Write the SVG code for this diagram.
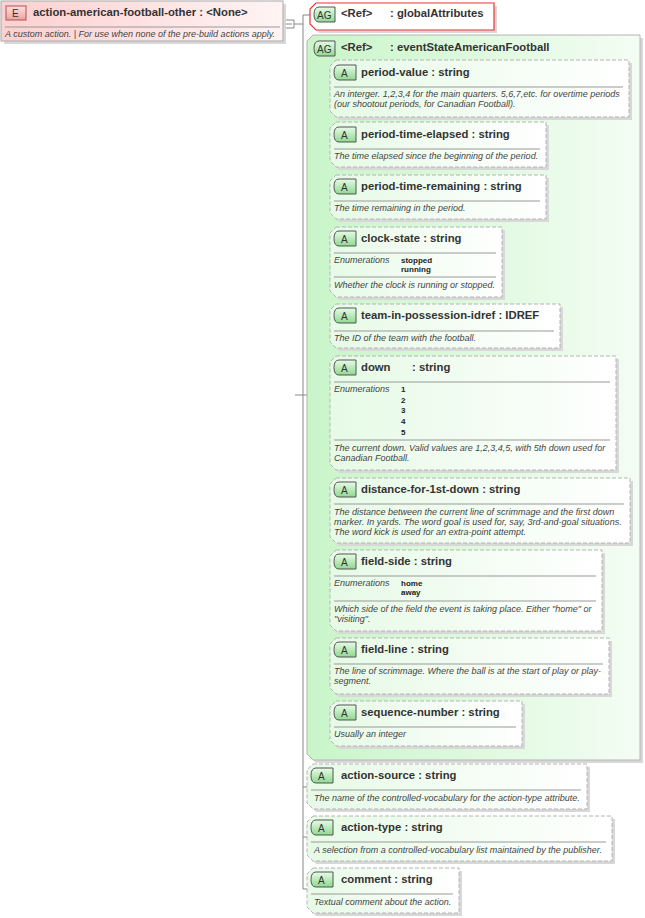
<svg xmlns="http://www.w3.org/2000/svg" width="645" height="918" viewBox="0 0 645 918">
<style>
text{font-family:"Liberation Sans",Arial,sans-serif;fill:#333}
.t{font-size:11.3px;font-weight:bold}
.d{font-size:9px;font-style:italic;fill:#444}
.e{font-size:8px;font-weight:bold;fill:#222}
.b{font-size:10px;fill:#333}
.att{fill:url(#ga);stroke:#b4b4b4;stroke-dasharray:4,2;stroke-width:1}
.sh{fill:#d8d8d8}
.sep{stroke:#999;stroke-width:1}
.ln{stroke:#888;stroke-width:1;fill:none}
.bdg{fill:url(#gb);stroke:#555;stroke-width:1}
</style>
<defs>
<linearGradient id="ga" x1="0" y1="0" x2="1" y2="0"><stop offset="0" stop-color="#e6fae6"/><stop offset="1" stop-color="#ffffff"/></linearGradient>
<linearGradient id="gb" x1="0" y1="0" x2="0" y2="1"><stop offset="0" stop-color="#e8fbe8"/><stop offset="1" stop-color="#8fd88f"/></linearGradient>
<linearGradient id="gg" x1="0" y1="0" x2="1" y2="0"><stop offset="0" stop-color="#c9f5c9"/><stop offset="1" stop-color="#f4fdf4"/></linearGradient>
<linearGradient id="gr" x1="0" y1="0" x2="1" y2="0"><stop offset="0" stop-color="#fbd0d0"/><stop offset="1" stop-color="#fff4f4"/></linearGradient>
<linearGradient id="ge" x1="0" y1="0" x2="0" y2="1"><stop offset="0" stop-color="#fde0e0"/><stop offset="1" stop-color="#f0a0a0"/></linearGradient>
</defs>
<g id="connectors">
<path class="ln" d="M284,20 H294 V28 H284 Z M286,24 H292" />
<path class="ln" d="M294,24 H303 M303,15 V889 M303,15 H310 M295,395 H307 M303,787 H307 M303,837 H307 M303,889 H307"/>
<path class="ln" d="M318,88 V722 M318,88 H330 M318,145 H330 M318,197 H330 M318,262 H330 M318,326 H330 M318,413 H330 M318,510 H330 M318,590 H330 M318,666 H330 M318,722 H330"/>
</g>
<g id="element">
<rect x="4" y="4" width="282" height="40" class="sh"/>
<rect x="1" y="1" width="282" height="40" fill="url(#gr)" stroke="#aaa"/>
<rect x="6" y="6" width="20" height="14" fill="url(#ge)" stroke="#a55"/>
<text x="12" y="17" class="b">E</text>
<text x="33" y="16" class="t">action-american-football-other : &lt;None&gt;</text>
<line x1="5" y1="27" x2="280" y2="27" class="sep"/>
<text x="5" y="37" class="d">A custom action. | For use when none of the pre-build actions apply.</text>
</g>
<g id="ag-global">
<path d="M319,6 H497 V33 H319 L313,27 V12 Z" class="sh"/>
<path d="M316,3 H494 V30 H316 L310,24 V9 Z" fill="#fff" stroke="#e33" stroke-width="1.2"/>
<path d="M319,7 H335 V22 H319 Q314,22 314,14.5 Q314,7 319,7 Z" class="bdg"/>
<text x="317" y="19" class="b">AG</text>
<text x="341" y="17" class="t">&lt;Ref&gt;</text><text x="390" y="17" class="t">: globalAttributes</text>
</g>
<g id="ag-event">
<path d="M316,38 H643 V763 H316 L310,757 V44 Z" class="sh"/>
<path d="M313,35 H640 V760 H313 L307,754 V41 Z" fill="url(#gg)" stroke="#b4b4b4"/>
<path d="M319,41 H335 V56 H319 Q314,56 314,48.5 Q314,41 319,41 Z" class="bdg"/>
<text x="317" y="53" class="b">AG</text>
<text x="341" y="51" class="t">&lt;Ref&gt;</text><text x="390" y="51" class="t">: eventStateAmericanFootball</text>
</g>
<g id="a-period-value">
<path d="M339,63 H632 V120 H339 L333,114 V69 Z" class="sh"/>
<path d="M336,60 H629 V117 H336 L330,111 V66 Z" class="att"/>
<path d="M339,65 H356 V80 H339 Q334,80 334,72.5 Q334,65 339,65 Z" class="bdg"/><text x="341" y="77" class="b">A</text>
<text x="361" y="76" class="t">period-value : string</text>
<line x1="334" y1="87" x2="623" y2="87" class="sep"/>
<text x="334" y="97" class="d">An interger. 1,2,3,4 for the main quarters. 5,6,7,etc. for overtime periods</text>
<text x="334" y="107" class="d">(our shootout periods, for Canadian Football).</text>
</g>
<g id="a-period-time-elapsed">
<path d="M339,125 H549 V170 H339 L333,164 V131 Z" class="sh"/>
<path d="M336,122 H546 V167 H336 L330,161 V128 Z" class="att"/>
<path d="M339,127 H356 V142 H339 Q334,142 334,134.5 Q334,127 339,127 Z" class="bdg"/><text x="341" y="139" class="b">A</text>
<text x="361" y="138" class="t">period-time-elapsed : string</text>
<line x1="334" y1="149" x2="540" y2="149" class="sep"/>
<text x="334" y="159" class="d">The time elapsed since the beginning of the period.</text>
</g>
<g id="a-period-time-remaining">
<path d="M339,178 H549 V222 H339 L333,216 V184 Z" class="sh"/>
<path d="M336,175 H546 V219 H336 L330,213 V181 Z" class="att"/>
<path d="M339,179 H356 V194 H339 Q334,194 334,186.5 Q334,179 339,179 Z" class="bdg"/><text x="341" y="191" class="b">A</text>
<text x="361" y="190" class="t">period-time-remaining : string</text>
<line x1="334" y1="201" x2="540" y2="201" class="sep"/>
<text x="334" y="211" class="d">The time remaining in the period.</text>
</g>
<g id="a-clock-state">
<path d="M339,230 H505 V300 H339 L333,294 V236 Z" class="sh"/>
<path d="M336,227 H502 V297 H336 L330,291 V233 Z" class="att"/>
<path d="M339,231 H356 V246 H339 Q334,246 334,238.5 Q334,231 339,231 Z" class="bdg"/><text x="341" y="243" class="b">A</text>
<text x="361" y="242" class="t">clock-state : string</text>
<line x1="334" y1="253" x2="496" y2="253" class="sep"/>
<text x="334" y="263" class="d">Enumerations</text>
<text x="401" y="263" class="e">stopped</text><text x="401" y="272" class="e">running</text>
<line x1="334" y1="277" x2="496" y2="277" class="sep"/>
<text x="334" y="288" class="d">Whether the clock is running or stopped.</text>
</g>
<g id="a-team-in-possession-idref">
<path d="M339,307 H563 V351 H339 L333,345 V313 Z" class="sh"/>
<path d="M336,304 H560 V348 H336 L330,342 V310 Z" class="att"/>
<path d="M339,308 H356 V323 H339 Q334,323 334,315.5 Q334,308 339,308 Z" class="bdg"/><text x="341" y="320" class="b">A</text>
<text x="361" y="319" class="t">team-in-possession-idref : IDREF</text>
<line x1="334" y1="331" x2="554" y2="331" class="sep"/>
<text x="334" y="341" class="d">The ID of the team with the football.</text>
</g>
<g id="a-down">
<path d="M339,359 H619 V473 H339 L333,467 V365 Z" class="sh"/>
<path d="M336,356 H616 V470 H336 L330,464 V362 Z" class="att"/>
<path d="M339,360 H356 V375 H339 Q334,375 334,367.5 Q334,360 339,360 Z" class="bdg"/><text x="341" y="372" class="b">A</text>
<text x="361" y="371" class="t">down</text><text x="412" y="371" class="t">: string</text>
<line x1="334" y1="382" x2="610" y2="382" class="sep"/>
<text x="334" y="392" class="d">Enumerations</text>
<text x="401" y="392" class="e">1</text><text x="401" y="403" class="e">2</text><text x="401" y="413" class="e">3</text><text x="401" y="424" class="e">4</text><text x="401" y="435" class="e">5</text>
<line x1="334" y1="440" x2="610" y2="440" class="sep"/>
<text x="334" y="451" class="d">The current down.  Valid values are 1,2,3,4,5, with 5th down used for</text>
<text x="334" y="461" class="d">Canadian Football.</text>
</g>
<g id="a-distance-for-1st-down">
<path d="M339,481 H633 V546 H339 L333,540 V487 Z" class="sh"/>
<path d="M336,478 H630 V543 H336 L330,537 V484 Z" class="att"/>
<path d="M339,482 H356 V497 H339 Q334,497 334,489.5 Q334,482 339,482 Z" class="bdg"/><text x="341" y="494" class="b">A</text>
<text x="361" y="493" class="t">distance-for-1st-down : string</text>
<line x1="334" y1="504" x2="624" y2="504" class="sep"/>
<text x="334" y="515" class="d">The distance between the current line of scrimmage and the first down</text>
<text x="334" y="525" class="d">marker. In yards. The word goal is used for, say, 3rd-and-goal situations.</text>
<text x="334" y="535" class="d">The word kick is used for an extra-point attempt.</text>
</g>
<g id="a-field-side">
<path d="M339,553 H605 V634 H339 L333,628 V559 Z" class="sh"/>
<path d="M336,550 H602 V631 H336 L330,625 V556 Z" class="att"/>
<path d="M339,554 H356 V569 H339 Q334,569 334,561.5 Q334,554 339,554 Z" class="bdg"/><text x="341" y="566" class="b">A</text>
<text x="361" y="565" class="t">field-side : string</text>
<line x1="334" y1="576" x2="596" y2="576" class="sep"/>
<text x="334" y="586" class="d">Enumerations</text>
<text x="401" y="586" class="e">home</text><text x="401" y="595" class="e">away</text>
<line x1="334" y1="601" x2="596" y2="601" class="sep"/>
<text x="334" y="612" class="d">Which side of the field the event is taking place.  Either "home" or</text>
<text x="334" y="622" class="d">"visiting".</text>
</g>
<g id="a-field-line">
<path d="M339,641 H612 V697 H339 L333,691 V647 Z" class="sh"/>
<path d="M336,638 H609 V694 H336 L330,688 V644 Z" class="att"/>
<path d="M339,642 H356 V657 H339 Q334,657 334,649.5 Q334,642 339,642 Z" class="bdg"/><text x="341" y="654" class="b">A</text>
<text x="361" y="653" class="t">field-line : string</text>
<line x1="334" y1="664" x2="603" y2="664" class="sep"/>
<text x="334" y="674" class="d">The line of scrimmage. Where the ball is at the start of play or play-</text>
<text x="334" y="684" class="d">segment.</text>
</g>
<g id="a-sequence-number">
<path d="M339,704 H525 V749 H339 L333,743 V710 Z" class="sh"/>
<path d="M336,701 H522 V746 H336 L330,740 V707 Z" class="att"/>
<path d="M339,705 H356 V720 H339 Q334,720 334,712.5 Q334,705 339,705 Z" class="bdg"/><text x="341" y="717" class="b">A</text>
<text x="361" y="716" class="t">sequence-number : string</text>
<line x1="334" y1="727" x2="516" y2="727" class="sep"/>
<text x="334" y="737" class="d">Usually an integer</text>
</g>
<g id="a-action-source">
<path d="M316,767 H590 V812 H316 L310,806 V773 Z" class="sh"/>
<path d="M313,764 H587 V809 H313 L307,803 V770 Z" class="att"/>
<path d="M316,768 H333 V783 H316 Q311,783 311,775.5 Q311,768 316,768 Z" class="bdg"/><text x="318" y="780" class="b">A</text>
<text x="341" y="779" class="t">action-source : string</text>
<line x1="311" y1="790" x2="581" y2="790" class="sep"/>
<text x="314" y="801" class="d">The name of the controlled-vocabulary for the action-type attribute.</text>
</g>
<g id="a-action-type">
<path d="M316,819 H615 V864 H316 L310,858 V825 Z" class="sh"/>
<path d="M313,816 H612 V861 H313 L307,855 V822 Z" class="att"/>
<path d="M316,820 H333 V835 H316 Q311,835 311,827.5 Q311,820 316,820 Z" class="bdg"/><text x="318" y="832" class="b">A</text>
<text x="341" y="831" class="t">action-type : string</text>
<line x1="311" y1="842" x2="606" y2="842" class="sep"/>
<text x="314" y="853" class="d">A selection from a controlled-vocabulary list maintained by the publisher.</text>
</g>
<g id="a-comment">
<path d="M316,871 H462 V916 H316 L310,910 V877 Z" class="sh"/>
<path d="M313,868 H459 V913 H313 L307,907 V874 Z" class="att"/>
<path d="M316,872 H333 V887 H316 Q311,887 311,879.5 Q311,872 316,872 Z" class="bdg"/><text x="318" y="884" class="b">A</text>
<text x="341" y="883" class="t">comment : string</text>
<line x1="311" y1="894" x2="453" y2="894" class="sep"/>
<text x="314" y="905" class="d">Textual comment about the action.</text>
</g>
</svg>
